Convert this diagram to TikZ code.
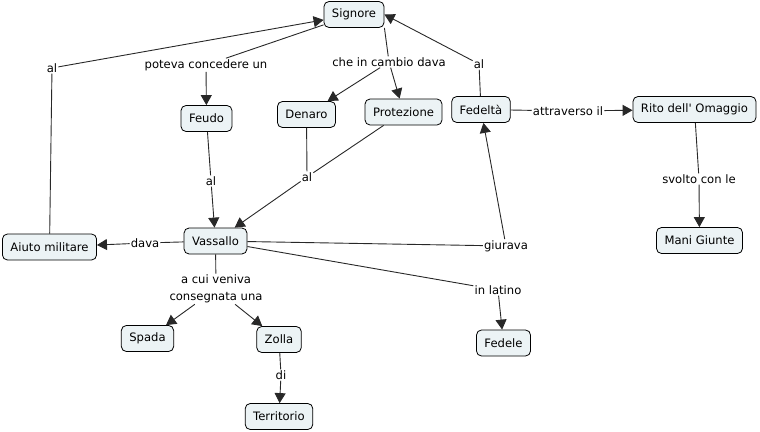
\documentclass[tikz,border=0pt]{standalone}
\usepackage{fontspec}
\setmainfont{DejaVu Sans}
\usepackage{tikz}
\usetikzlibrary{arrows.meta,shapes,positioning}
\usepackage{xcolor}
\definecolor{cmfill}{RGB}{236,243,245}
\definecolor{cmline}{RGB}{40,40,40}
\tikzstyle{arrow} = [line width=0.9pt,-{Triangle[length=10pt,width=11pt]},color=cmline]
\tikzstyle{link} = [line width=0.9pt,color=cmline]
\tikzstyle{concept} = [rectangle, rounded corners=5pt, minimum height=26pt, inner xsep=8pt, text centered, draw=black, fill=cmfill, line width=0.8pt, font=\fontsize{11.6}{13}\selectfont]
\tikzstyle{linkword} = [inner sep=1pt, align=center, font=\fontsize{11.6}{17}\selectfont]

\begin{document}
\begin{tikzpicture}[x=1pt,y=-1pt]
\useasboundingbox (0,0) rectangle (760,431);
% Concepts
\node (signore) [concept] at (354,14.5) {Signore};
\node (feudo) [concept] at (206.5,118.5) {Feudo};
\node (denaro) [concept] at (306.5,114.5) {Denaro};
\node (protezione) [concept] at (403.5,112) {Protezione};
\node (fedelta) [concept] at (481,109.5) {Fedeltà};
\node (rito) [concept] at (694.5,109.5) {Rito dell\textquotesingle{} Omaggio};
\node (mani) [concept] at (699.5,240.5) {Mani Giunte};
\node (vassallo) [concept] at (215.5,241) {Vassallo};
\node (aiuto) [concept] at (49.5,247) {Aiuto militare};
\node (spada) [concept] at (147.5,338.5) {Spada};
\node (zolla) [concept] at (279,339.5) {Zolla};
\node (territorio) [concept] at (279,416.5) {Territorio};
\node (fedele) [concept] at (503.5,343) {Fedele};

% Linking words
\node (potevaconc) [linkword] at (206,65) {poteva concedere un};
\node (incambio) [linkword] at (389,62) {che in cambio dava};
\node (alaiuto) [linkword] at (52,68) {al};
\node (alfedelta) [linkword] at (479,64) {al};
\node (alfeudo) [linkword] at (211,181) {al};
\node (aldenaro) [linkword] at (307,177) {al};
\node (attraverso) [linkword] at (568,111) {attraverso il};
\node (svolto) [linkword] at (699,179) {svolto con le};
\node (dava) [linkword] at (145,243) {dava};
\node (giurava) [linkword] at (506,246) {giurava};
\node (acui) [linkword] at (216,289) {a cui veniva\\consegnata una};
\node (latino) [linkword] at (498,290) {in latino};
\node (di) [linkword] at (281,375) {di};

% Arrows
\draw[link] (signore) -- (potevaconc);
\draw[arrow] (potevaconc) -- (feudo);
\draw[link] (signore.south east) -- (incambio);
\draw[arrow] (incambio) -- (denaro);
\draw[arrow] (incambio) -- (protezione);
\draw[link] (feudo) -- (alfeudo);
\draw[arrow] (alfeudo) -- (vassallo);
\draw[link] (denaro) -- (aldenaro);
\draw[link] (protezione) -- (aldenaro);
\draw[arrow] (aldenaro) -- (vassallo);
\draw[link] (vassallo) -- (dava);
\draw[arrow] (dava) -- (aiuto);
\draw[link] (aiuto) -- (alaiuto);
\draw[arrow] (alaiuto) -- (signore);
\draw[link] (vassallo) -- (giurava);
\draw[arrow] (giurava) -- (fedelta);
\draw[link] (fedelta) -- (alfedelta);
\draw[arrow] (alfedelta) -- (signore.east);
\draw[link] (fedelta) -- (attraverso);
\draw[arrow] (attraverso) -- (rito);
\draw[link] (rito) -- (svolto);
\draw[arrow] (svolto) -- (mani);
\draw[link] (vassallo) -- (acui);
\draw[arrow] (acui) -- (spada);
\draw[arrow] (acui) -- (zolla);
\draw[link] (zolla) -- (di);
\draw[arrow] (di) -- (territorio);
\draw[link] (vassallo) -- (latino);
\draw[arrow] (latino) -- (fedele);
\end{tikzpicture}
\end{document}
